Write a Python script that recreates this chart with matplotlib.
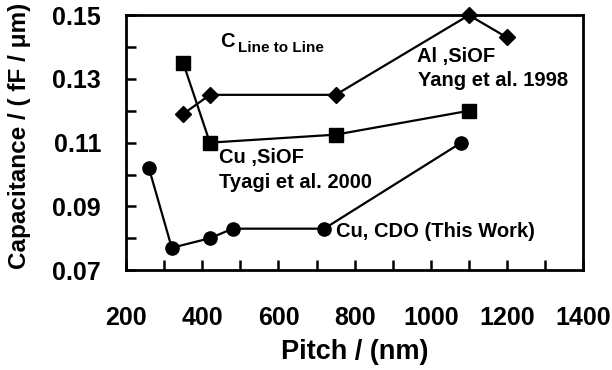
import matplotlib
matplotlib.use("Agg")
import matplotlib.pyplot as plt
from matplotlib.ticker import MultipleLocator, FuncFormatter

plt.rcParams['font.family'] = ['Liberation Sans', 'DejaVu Sans']
plt.rcParams['font.weight'] = 'bold'

# Data
cdo_pitch = [260, 320, 420, 480, 720, 1080]
cdo_cap = [0.102, 0.077, 0.080, 0.083, 0.083, 0.110]

cu_siof_pitch = [350, 420, 750, 1100]
cu_siof_cap = [0.135, 0.110, 0.1125, 0.120]

al_siof_pitch = [350, 420, 750, 1100, 1200]
al_siof_cap = [0.119, 0.125, 0.125, 0.150, 0.143]

fig = plt.figure(figsize=(6.12, 3.70), dpi=100)
ax = fig.add_axes([0.206, 0.270, 0.747, 0.689])

ax.plot(al_siof_pitch, al_siof_cap, color='black', lw=1.6, marker='D',
        markersize=8.5, clip_on=False, zorder=3)
ax.plot(cu_siof_pitch, cu_siof_cap, color='black', lw=1.6, marker='s',
        markersize=9.5, clip_on=False, zorder=3)
ax.plot(cdo_pitch, cdo_cap, color='black', lw=1.6, marker='o',
        markersize=9.5, clip_on=False, zorder=3)

ax.set_xlim(200, 1400)
ax.set_ylim(0.07, 0.15)

ax.xaxis.set_major_locator(MultipleLocator(100))
ax.yaxis.set_major_locator(MultipleLocator(0.01))

def xfmt(v, pos):
    iv = int(round(v))
    return str(iv) if iv % 200 == 0 else ''

def yfmt(v, pos):
    k = int(round(v * 100))
    return f"{v:.2f}" if k % 2 == 1 else ''

ax.xaxis.set_major_formatter(FuncFormatter(xfmt))
ax.yaxis.set_major_formatter(FuncFormatter(yfmt))

ax.tick_params(axis='both', direction='in', length=7, width=1.8,
               labelsize=18, top=False, right=False)
ax.tick_params(axis='x', pad=26)
ax.tick_params(axis='y', pad=18)
for lab in ax.get_xticklabels() + ax.get_yticklabels():
    lab.set_fontweight('bold')

for s in ax.spines.values():
    s.set_linewidth(2.0)

ax.set_xlabel('Pitch / (nm)', fontsize=19.5, fontweight='bold', labelpad=6)
ax.set_ylabel('Capacitance / ( fF / μm)', fontsize=17.5, fontweight='bold')
ax.yaxis.set_label_coords(-0.207, 0.525)

kw = dict(fontsize=14.5, fontweight='bold', ha='left', va='baseline')
ax.text(447, 0.1400, 'C', fontsize=14.5, fontweight='bold', ha='left', va='baseline')
ax.text(494, 0.1384, 'Line to Line', fontsize=11, fontweight='bold', ha='left', va='baseline')
ax.text(444, 0.1036, 'Cu ,SiOF', **kw)
ax.text(444, 0.0957, 'Tyagi et al. 2000', **kw)
ax.text(963, 0.1353, 'Al ,SiOF', **kw)
ax.text(967, 0.1277, 'Yang et al. 1998', **kw)
ax.text(752, 0.0804, 'Cu, CDO (This Work)', **kw)

fig.savefig('out.png', dpi=100)
